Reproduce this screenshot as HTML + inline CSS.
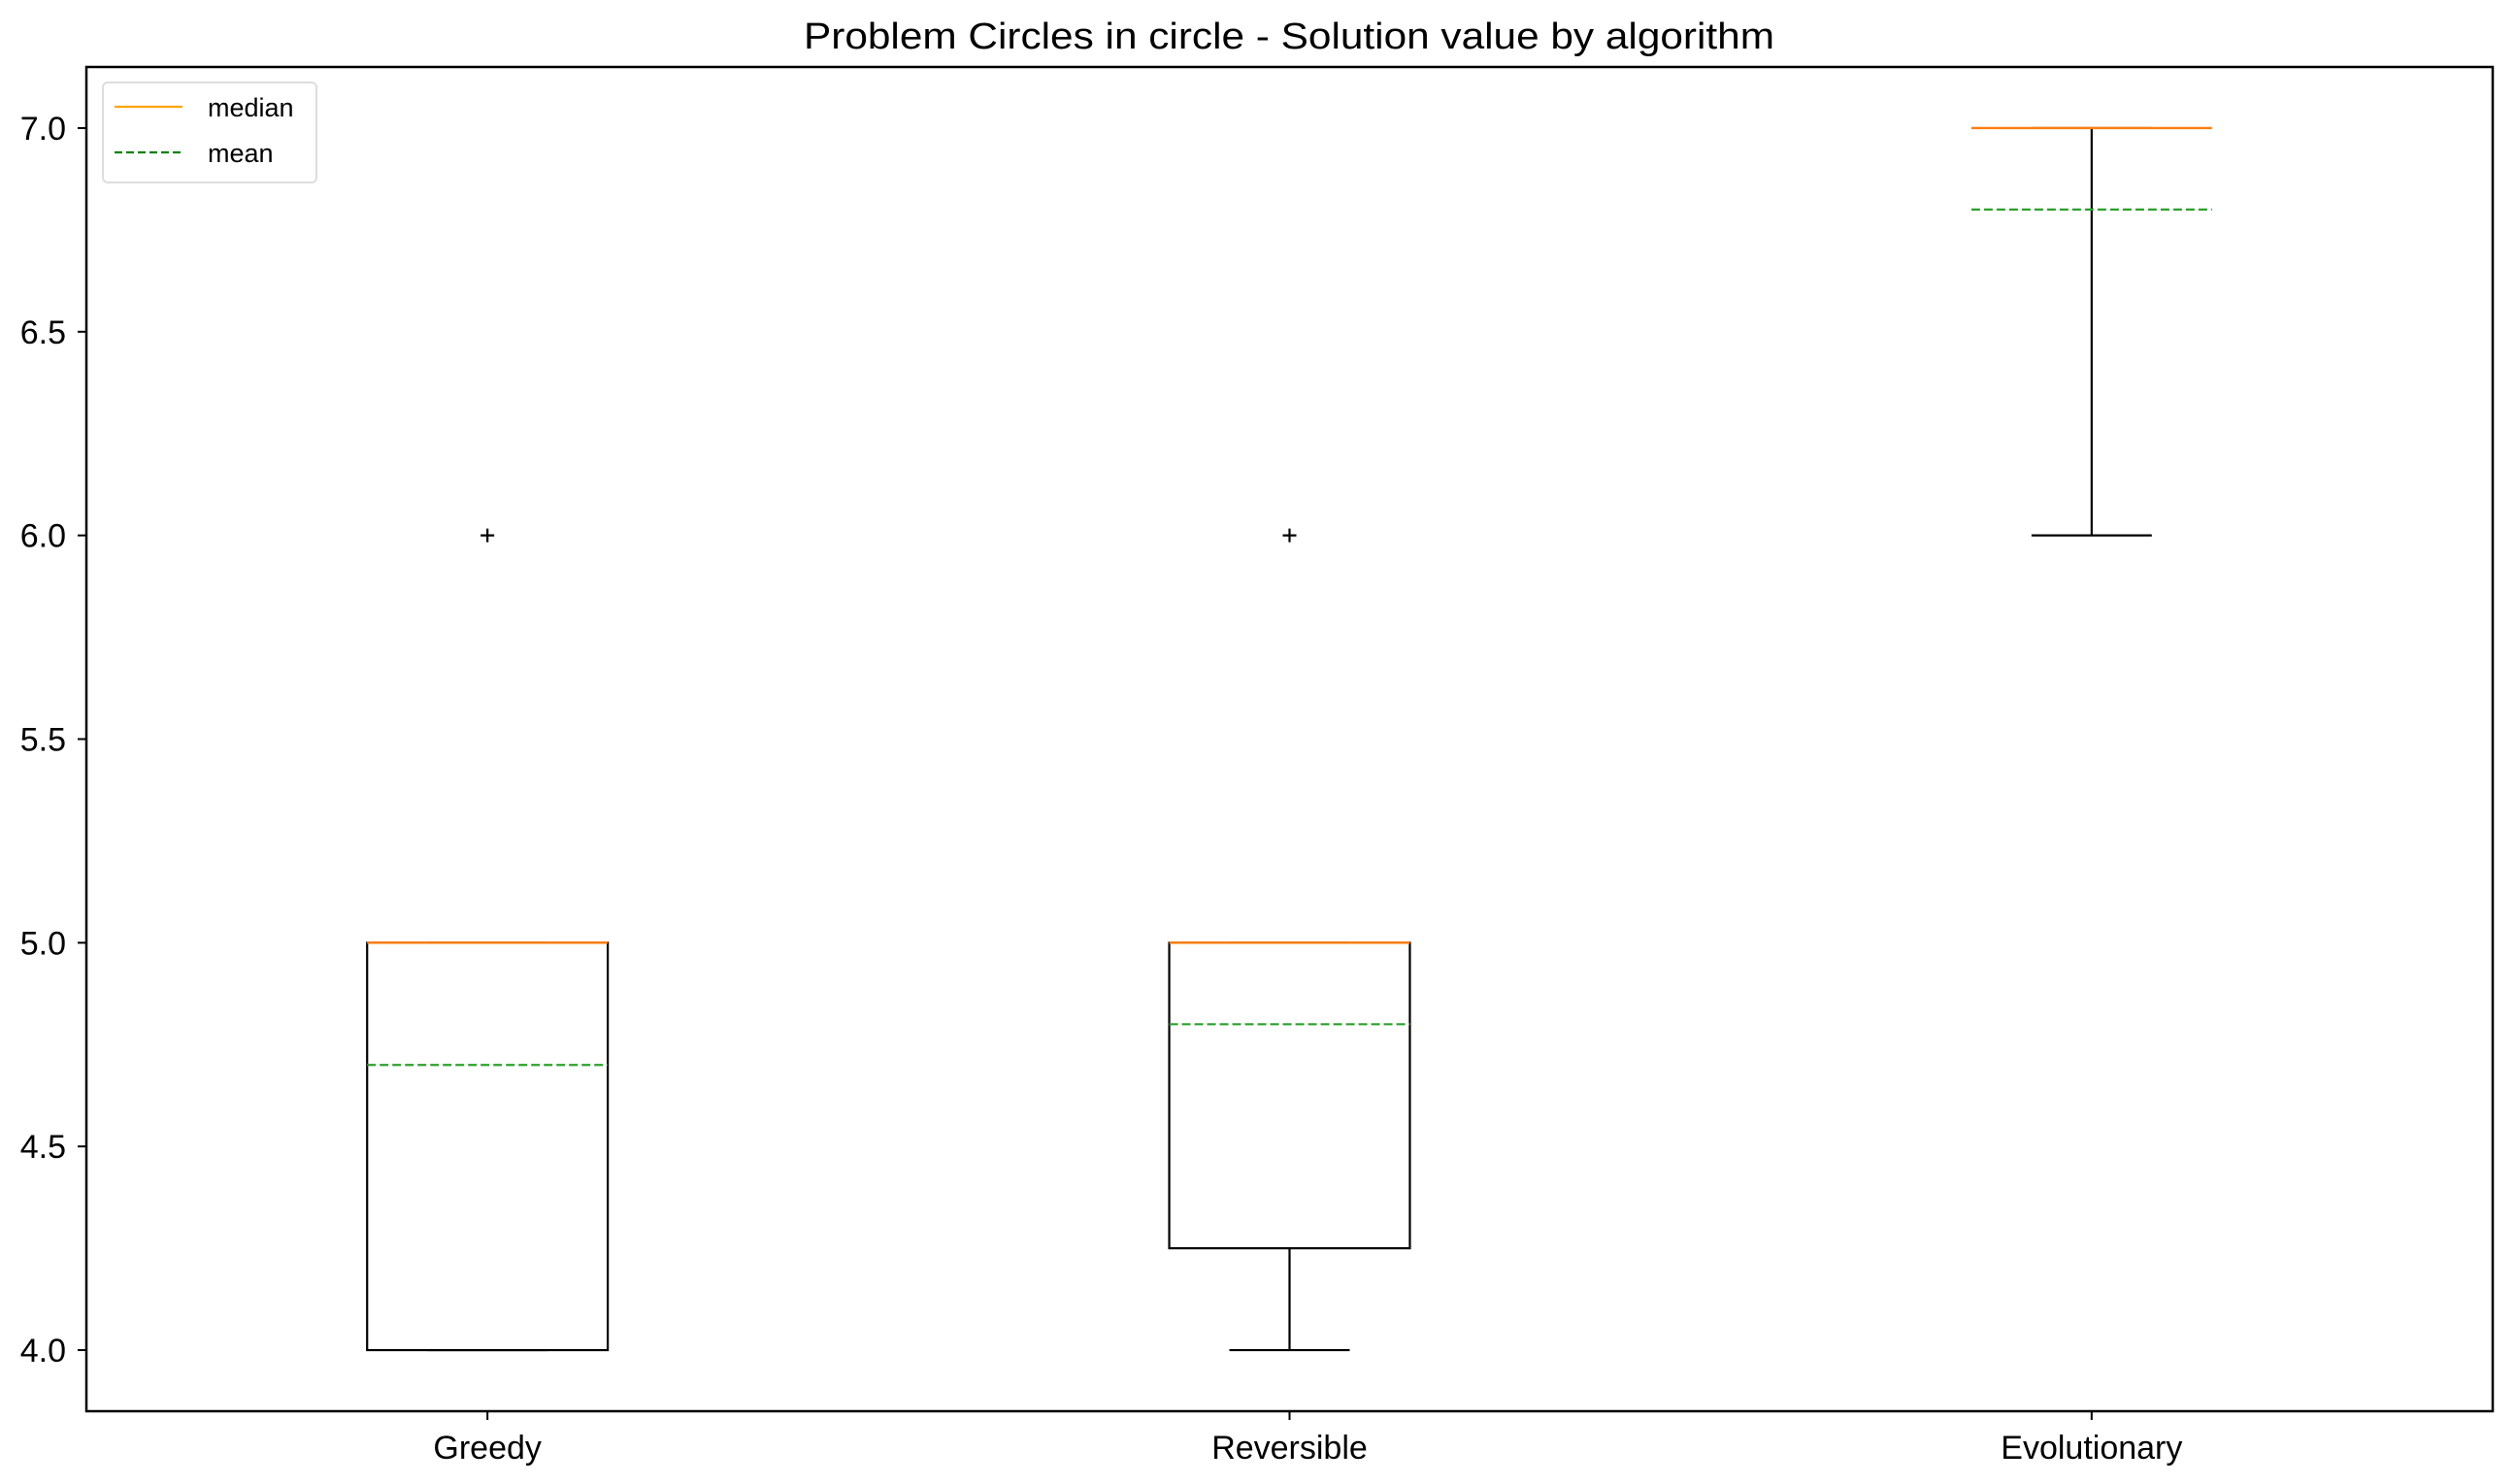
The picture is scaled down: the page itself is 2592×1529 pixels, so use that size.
<!DOCTYPE html>
<html><head><meta charset="utf-8"><style>html,body{margin:0;padding:0;background:#fff}svg{display:block}text{font-family:"Liberation Sans",sans-serif;fill:#000}</style></head>
<body>
<svg id="chart" width="2592" height="1529" viewBox="0 0 2592 1529" xmlns="http://www.w3.org/2000/svg">
<rect width="2592" height="1529" fill="#fff"/>
<text x="1328" y="50" text-anchor="middle" font-size="38" textLength="1000" lengthAdjust="spacingAndGlyphs">Problem Circles in circle - Solution value by algorithm</text>
<g id="plot"></g>
<rect x="89" y="69" width="2479" height="1385" fill="none" stroke="#000" stroke-width="2.5"/>
<g>
<rect x="106" y="85" width="220" height="103" rx="5" fill="#fff" stroke="#ddd" stroke-width="2"/>
<line x1="118" y1="110" x2="188" y2="110" stroke="#ffa500" stroke-width="2.2"/>
<text x="214" y="120" font-size="27">median</text>
<line x1="118" y1="157" x2="188" y2="157" stroke="#008000" stroke-width="2.2" stroke-dasharray="8,4"/>
<text x="214" y="167" font-size="27">mean</text>
</g>
</svg>
<script>
const categories = ["Greedy", "Reversible", "Evolutionary"];
const q1Values = [4, 4.25, 7];
const q3Values = [5, 5, 7];
const medianValues = [5, 5, 7];
const meanValues = [4.7, 4.8, 6.8];
const whiskerLow = [4, 4, 6];
const whiskerHigh = [5, 5, 7];
const fliers = [[6], [6], []];
const yTicks = [4.0, 4.5, 5.0, 5.5, 6.0, 6.5, 7.0];
const yTickLabels = ["4.0", "4.5", "5.0", "5.5", "6.0", "6.5", "7.0"];

const L = 89, R = 2568, T = 69, B = 1454;
const yMin = 3.85, yMax = 7.15, xMin = 0.5, xMax = 3.5;
function xs(v){ return L + (v - xMin) / (xMax - xMin) * (R - L); }
function ys(v){ return B - (v - yMin) / (yMax - yMin) * (B - T); }
const NS = "http://www.w3.org/2000/svg";
const svg = document.getElementById("chart");
const plot = document.getElementById("plot");
function mk(tag, attrs, parent){ const e = document.createElementNS(NS, tag); for (const k in attrs) e.setAttribute(k, attrs[k]); (parent || plot).appendChild(e); return e; }

yTicks.forEach((t, i) => {
  const y = ys(t);
  const tk = mk("line", {x1: L - 9, x2: L, y1: y, y2: y, stroke: "#000", "stroke-width": 2}, svg);
  
  
  const lb = mk("text", {x: L - 21, y: y + 12, "text-anchor": "end", "font-size": 34}, svg);
  lb.textContent = yTickLabels[i];
  
  
});

categories.forEach((c, i) => {
  const pos = i + 1;
  const cx = xs(pos), hw = (xs(pos + 0.15) - xs(pos)), cw = hw / 2;
  const g = mk("g", {});
  
  
  const wl = mk("line", {x1: cx, x2: cx, y1: ys(q1Values[i]), y2: ys(whiskerLow[i]), stroke: "#000", "stroke-width": 2.2}, g);
  
  
  const wh = mk("line", {x1: cx, x2: cx, y1: ys(q3Values[i]), y2: ys(whiskerHigh[i]), stroke: "#000", "stroke-width": 2.2}, g);
  
  
  const cl = mk("line", {x1: cx - cw, x2: cx + cw, y1: ys(whiskerLow[i]), y2: ys(whiskerLow[i]), stroke: "#000", "stroke-width": 2.2}, g);
  
  
  const ch = mk("line", {x1: cx - cw, x2: cx + cw, y1: ys(whiskerHigh[i]), y2: ys(whiskerHigh[i]), stroke: "#000", "stroke-width": 2.2}, g);
  
  
  const bx = mk("rect", {x: cx - hw, y: ys(q3Values[i]), width: 2 * hw, height: Math.max(0, ys(q1Values[i]) - ys(q3Values[i])), fill: "none", stroke: "#000", "stroke-width": 2.2}, g);
  
  
  const md = mk("line", {x1: cx - hw, x2: cx + hw, y1: ys(medianValues[i]), y2: ys(medianValues[i]), stroke: "#ff7f0e", "stroke-width": 2.4}, g);
  
  
  const mn = mk("line", {x1: cx - hw, x2: cx + hw, y1: ys(meanValues[i]), y2: ys(meanValues[i]), stroke: "#2ca02c", "stroke-width": 2.2, "stroke-dasharray": "9,4"}, g);
  
  
  fliers[i].forEach(f => {
    const fy = ys(f);
    const p = mk("path", {d: `M${cx-7},${fy}H${cx+7}M${cx},${fy-7}V${fy+7}`, stroke: "#000", "stroke-width": 2.2}, g);
    
    
  });
  const xt = mk("line", {x1: cx, x2: cx, y1: B, y2: B + 9, stroke: "#000", "stroke-width": 2}, svg);
  
  
  const xl = mk("text", {x: cx, y: 1503, "text-anchor": "middle", "font-size": 34}, svg);
  xl.textContent = c;
  
  
});
</script>
</body></html>
